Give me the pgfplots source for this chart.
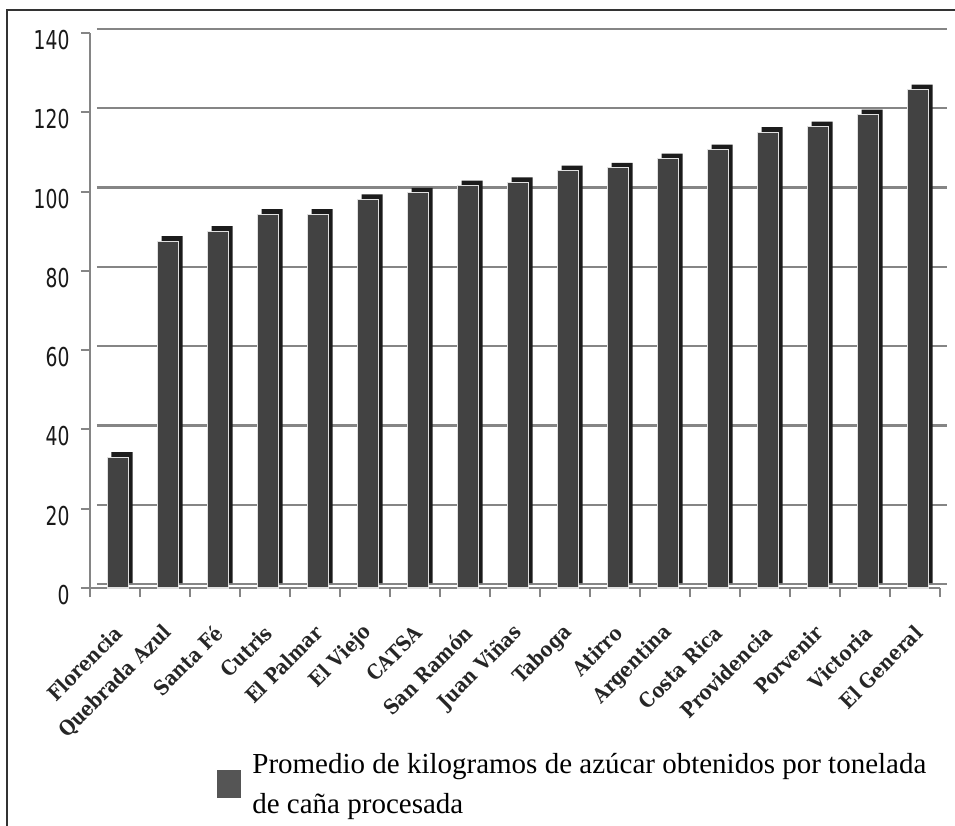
\documentclass[border=0pt]{standalone}
\usepackage{fontspec}
\setmainfont{Liberation Serif}
\newfontfamily\ysans{DejaVu Sans}[FakeStretch=0.72]
\newfontfamily\xserif{DejaVu Serif}[FakeStretch=0.88]
\usepackage{pgfplots}
\pgfplotsset{compat=1.18}
\definecolor{barfront}{HTML}{424242}
\definecolor{barside}{HTML}{1C1C1C}
\definecolor{gridgray}{HTML}{858585}
\definecolor{legsq}{HTML}{555555}
\begin{document}
\begin{tikzpicture}[x=1pt,y=1pt]
\useasboundingbox (-90,-238) rectangle (865,588);
\fill[white] (-90,-238) rectangle (865,588);
\draw[line width=1.2pt, black!80] (-83,-245) -- (-83,578) -- (870,578);
\begin{axis}[
  scale only axis, width=850pt, height=555pt,
  xmin=-0.5, xmax=16.5, ymin=0, ymax=140,
  axis x line*=bottom, axis y line*=left,
  axis line style={draw=gridgray, line width=2.4pt},
  xtick={-0.5,0.5,...,16.5},
  x tick label as interval,
  xticklabels={Florencia,Quebrada Azul,Santa Fé,Cutris,El Palmar,El Viejo,CATSA,San Ramón,Juan Viñas,Taboga,Atirro,Argentina,Costa Rica,Providencia,Porvenir,Victoria,El General},
  ytick={0,20,...,140},
  ymajorgrids,
  major grid style={draw=gridgray, line width=2.4pt, xshift=7pt, yshift=4pt},
  tick align=outside,
  major tick length=9pt,
  xtick style={draw=gridgray, line width=1.5pt},
  ytick style={draw=gridgray, line width=2pt},
  /pgf/number format/assume math mode=true,
  yticklabel shift=8pt,
  yticklabel style={font=\ysans\fontsize{26}{28}\selectfont, text=black!90, yshift=-7pt},
  xticklabel style={font=\xserif\bfseries\fontsize{20.5}{22}\selectfont, text=black!85, xshift=6pt, yshift=-30pt, rotate=45, anchor=east},
  legend style={at={(axis description cs:0.1494,-0.353)}, anchor=west, draw=none, fill=none, inner sep=0pt, font=\fontsize{29}{37}\selectfont, cells={align=left}, column sep=9pt},
  clip=false,
]
\addplot[ybar, bar width=21pt, bar shift=3pt, fill=barside, draw=none, xshift=4pt, yshift=5pt, forget plot]
  coordinates {(0,33) (1,87.5) (2,90) (3,94.3) (4,94.3) (5,98) (6,99.7) (7,101.5) (8,102.3) (9,105.3) (10,106) (11,108.3) (12,110.6) (13,115) (14,116.4) (15,119.4) (16,125.7)};
\addplot[ybar, bar width=21pt, bar shift=3pt, fill=barfront, draw=white!88!black, line width=1.2pt,
  legend image code/.code={\fill[legsq] (0pt,-13pt) rectangle (23pt,13pt);}]
  coordinates {(0,33) (1,87.5) (2,90) (3,94.3) (4,94.3) (5,98) (6,99.7) (7,101.5) (8,102.3) (9,105.3) (10,106) (11,108.3) (12,110.6) (13,115) (14,116.4) (15,119.4) (16,125.7)};
\addlegendentry{Promedio de kilogramos de azúcar obtenidos por tonelada\\[3pt]de caña procesada}
\end{axis}
\end{tikzpicture}
\end{document}
